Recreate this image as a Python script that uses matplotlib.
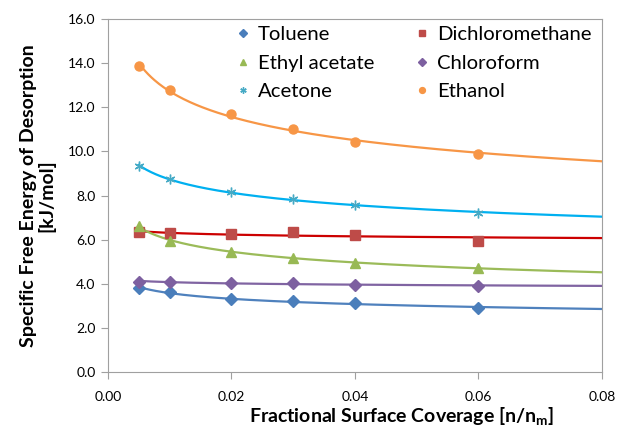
import numpy as np
import matplotlib
matplotlib.use("Agg")
import matplotlib.pyplot as plt

plt.rcParams['font.family'] = ['Lato', 'DejaVu Sans']

coverage = [0.005, 0.01, 0.02, 0.03, 0.04, 0.06]
toluene = [3.79, 3.63, 3.32, 3.22, 3.11, 2.88]
dichloromethane = [6.34, 6.29, 6.24, 6.35, 6.19, 5.95]
ethyl_acetate = [6.62, 5.95, 5.42, 5.18, 4.94, 4.73]
chloroform = [4.10, 4.08, 4.05, 4.04, 3.93, 3.89]
acetone = [9.34, 8.73, 8.15, 7.86, 7.57, 7.19]
ethanol = [13.88, 12.78, 11.68, 11.0, 10.44, 9.88]

series = [
    ("Toluene", toluene, "D", "#4A7EBB", "#4F81BD", 6),
    ("Dichloromethane", dichloromethane, "s", "#BE4B48", "#CC0000", 6.5),
    ("Ethyl acetate", ethyl_acetate, "^", "#98B954", "#9BBB59", 7),
    ("Chloroform", chloroform, "D", "#7D60A0", "#8064A2", 6),
    ("Acetone", acetone, (6, 2, 0), "#46AAC5", "#00B0F0", 7),
    ("Ethanol", ethanol, "o", "#F79646", "#F79646", 6.5),
]

fig = plt.figure(figsize=(6.17, 4.28), dpi=100)
ax = fig.add_axes([0.175, 0.1308, 0.8007, 0.8248])

x = np.array(coverage)
xf = np.linspace(0.005, 0.08, 300)
handles = {}
for name, vals, mk, mc, lc, ms in series:
    y = np.array(vals)
    b, la = np.polyfit(np.log(x), np.log(y), 1)
    ax.plot(xf, np.exp(la) * xf ** b, color=lc, lw=1.6, zorder=2)
    h, = ax.plot(x, y, linestyle='none', marker=mk, color=mc, markersize=ms,
                 markeredgecolor=mc, markeredgewidth=1.0, label=name, zorder=3)
    handles[name] = h

ax.set_xlim(0, 0.08)
ax.set_ylim(0, 16)
ax.set_xticks([0.0, 0.02, 0.04, 0.06, 0.08])
ax.set_xticklabels(["0.00", "0.02", "0.04", "0.06", "0.08"])
ax.set_yticks(np.arange(0, 17, 2))
ax.set_yticklabels([f"{v:.1f}" for v in np.arange(0, 17, 2)])
for s in ax.spines.values():
    s.set_color("#A0A0A0")
ax.tick_params(direction='out', length=5, color="#A0A0A0", labelsize=10)
ax.tick_params(axis='x', pad=9)
ax.tick_params(axis='y', pad=4)

ax.set_xlabel("Fractional Surface Coverage [n/n$_\\mathregular{m}$]", fontsize=14,
              fontweight='bold')
ax.xaxis.set_label_coords(0.595, -0.094)
ax.set_ylabel("Specific Free Energy of Desorption\n[kJ/mol]", fontsize=14,
              fontweight='bold', labelpad=9, linespacing=1.05)

order = ["Toluene", "Ethyl acetate", "Acetone", "Dichloromethane", "Chloroform", "Ethanol"]
leg = ax.legend([handles[n] for n in order], order, ncol=2, loc='upper right',
                bbox_to_anchor=(0.979, 0.98), frameon=False, borderpad=0, borderaxespad=0,
                fontsize=14.6, handlelength=0.6, handletextpad=0.45, columnspacing=2.05,
                labelspacing=0.55, markerscale=0.65)

fig.savefig("out.png", dpi=100)
